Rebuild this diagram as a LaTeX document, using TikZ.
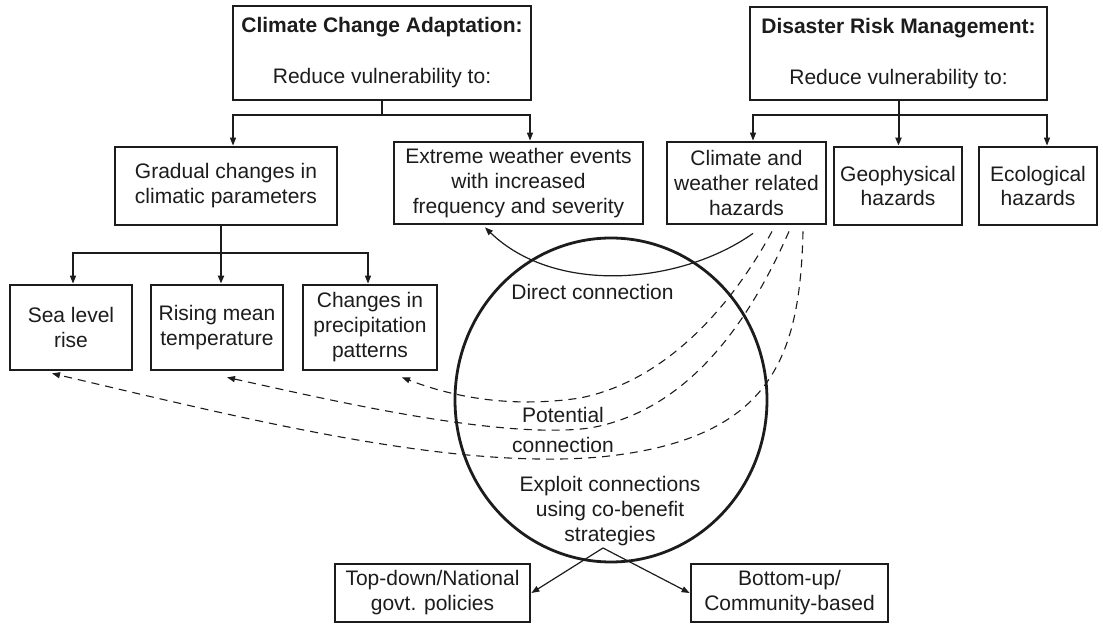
\documentclass[tikz,border=0pt]{standalone}
\usepackage{fontspec}
\setmainfont{Liberation Sans}
\usetikzlibrary{arrows.meta,shapes.geometric}
\definecolor{ink}{HTML}{1C1C1C}
\begin{document}
\begin{tikzpicture}[x=0.5pt,y=-0.5pt,
  txt/.style={font=\fontsize{10.5}{12.5}\selectfont, text=ink, align=center, inner sep=0pt},
  box/.style={txt, draw=ink, line width=1.4pt},
  thinln/.style={draw=ink, line width=0.6pt},
  thickln/.style={draw=ink, line width=1pt},
  tip/.style={-{Triangle[length=4pt,width=3pt]}},
  dashln/.style={draw=ink, line width=0.55pt, dash pattern=on 4pt off 3pt},
]
\useasboundingbox (0,0) rectangle (1103,624);
\fill[white] (0,0) rectangle (1103,624);

% top boxes
\node[box, minimum width=149pt, minimum height=47pt] (cca) at (382,53) {\textbf{Climate Change Adaptation:}\\[13pt]Reduce vulnerability to:};
\node[box, minimum width=148.5pt, minimum height=46.5pt] (drm) at (898.5,53.5) {\textbf{Disaster Risk Management:}\\[13pt]Reduce vulnerability to:};

% second level
\node[box, minimum width=111pt, minimum height=39pt] (grad) at (226,186) {Gradual changes in\\climatic parameters};
\node[box, minimum width=124.5pt, minimum height=41pt] (ext) at (518.5,183) {Extreme weather events\\with increased\\frequency and severity};
\node[box, minimum width=79.5pt, minimum height=41pt] (cwh) at (746.5,183) {Climate and\\weather related\\hazards};
\node[box, minimum width=64pt, minimum height=39pt] (geo) at (898,186) {Geophysical\\hazards};
\node[box, minimum width=59pt, minimum height=39pt] (eco) at (1038,186) {Ecological\\hazards};

% third level
\node[box, minimum width=61pt, minimum height=42.5pt] (sea) at (71,327.5) {Sea level\\rise};
\node[box, minimum width=66pt, minimum height=42.5pt] (ris) at (217,327.5) {Rising mean\\temperature};
\node[box, minimum width=67pt, minimum height=42.5pt] (chg) at (370,327.5) {Changes in\\precipitation\\patterns};

% bottom
\node[box, minimum width=97.5pt, minimum height=29pt] (td) at (432.5,593) {Top-down/National\\govt. policies};
\node[box, minimum width=98.5pt, minimum height=29pt] (bu) at (789.5,593) {Bottom-up/\\Community-based};

% circle
\node[draw=ink, line width=1.4pt, ellipse, minimum width=156pt, minimum height=162pt, inner sep=0pt] (circ) at (611,400) {};

% texts in circle
\node[txt] (dc) at (592.5,292) {Direct connection};
\node[txt] (pc) at (563,430) {Potential\\[2.5pt]connection};
\node[txt] (ex) at (610,511) {Exploit connections\\using co-benefit\\strategies};

% tree connectors
\coordinate (ccaj) at (cca.south |- 0,115);
\draw[thinln] (cca.south) -- (ccaj);
\draw[thinln,tip] (ccaj) -| ([xshift=3.5pt]grad.north);
\draw[thinln,tip] (ccaj) -| ([xshift=5.75pt]ext.north);

\coordinate (drmj) at (drm.south |- 0,115);
\draw[thickln,tip] (drm.south) -- (drm.south |- geo.north);
\draw[thinln,tip] (drmj) -| ([xshift=3.25pt]cwh.north);
\draw[thinln,tip] (drmj) -| ([xshift=4.5pt]eco.north);

\coordinate (gs) at ([xshift=-2.5pt]grad.south);
\coordinate (gradj) at (gs |- 0,253);
\draw[thickln,tip] (gs) -- (gs |- ris.north);
\draw[thinln,tip] (gradj) -| ([xshift=1pt]sea.north);
\draw[thinln,tip] (gradj) -| ([xshift=-1pt]chg.north);

% direct connection
\coordinate (dcS) at ([shift={(6.5,8)}]cwh.south);
\coordinate (dcE) at ([shift={(-33.5,2)}]ext.south);
\draw[thinln,tip] (dcS) .. controls (680,285) and (555,295) .. (dcE);

% potential connections
\coordinate (a1) at ([shift={(25.5,6)}]cwh.south);
\coordinate (a2) at ([shift={(42.5,6)}]cwh.south);
\coordinate (a3) at ([shift={(56.5,6)}]cwh.south);
\coordinate (b1) at ([shift={(32,6)}]chg.south);
\coordinate (b2) at ([shift={(10,6)}]ris.south);
\coordinate (b3) at ([shift={(-19,2)}]sea.south);
\draw[dashln,tip] (a1) .. controls (735,300) and (670,380) .. (580,398) .. controls (500,410) and (440,392) .. (b1);
\draw[dashln,tip] (a2) .. controls (750,320) and (690,410) .. (590,428) .. controls (500,440) and (330,400) .. (b2);
\draw[dashln,tip] (a3) .. controls (800,360) and (770,440) .. (600,457) .. controls (450,470) and (250,420) .. (b3);

% strategies
\coordinate (apex) at (603,548);
\draw[thinln,tip] (apex) -- (td.east);
\draw[thinln,tip] (apex) -- (bu.west);
\end{tikzpicture}
\end{document}
